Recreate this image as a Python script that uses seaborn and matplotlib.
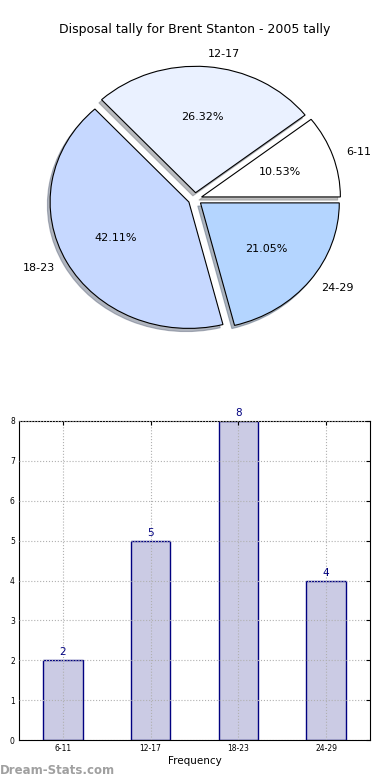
import matplotlib
matplotlib.use("Agg")
import matplotlib.pyplot as plt
import seaborn as sns
import pandas as pd

# data
intervals = ['6-11', '12-17', '18-23', '24-29']
counts = [2, 5, 8, 4]
pie_colors = ['#ffffff', '#eaf1ff', '#c6d8ff', '#b4d5ff']

sns.set_style("white")
plt.rcParams['font.family'] = ['DejaVu Sans']
plt.rcParams['text.color'] = 'black'
plt.rcParams['xtick.color'] = 'black'
plt.rcParams['ytick.color'] = 'black'
plt.rcParams['axes.labelcolor'] = 'black'

fig = plt.figure(figsize=(3.9, 7.8), dpi=100)

# --- pie (old style: not forced round, so it is a bit squashed) ---
pw, ph = 347, 316
cx, cy = 195, 199
ax1 = fig.add_axes([(cx - pw / 2) / 390, 1 - (cy + ph / 2) / 780,
                    pw / 390, ph / 780])
ax1.pie(counts, labels=intervals, colors=pie_colors, explode=[0.05] * 4,
        autopct='%1.2f%%', startangle=0,
        shadow={'ox': -0.014, 'oy': -0.018, 'shade': 0.5},
        wedgeprops=dict(edgecolor='black', linewidth=0.8),
        textprops=dict(fontsize=8, color='black'))
ax1.set_aspect('auto')
ax1.set_xlim(-1.25, 1.25)
ax1.set_ylim(-1.25, 1.25)
fig.text(0.5, 1 - 30 / 780, 'Disposal tally for Brent Stanton - 2005 tally',
         ha='center', va='center', fontsize=9)

# --- bars ---
df = pd.DataFrame({'interval': intervals, 'count': counts})
ax2 = fig.add_axes([19 / 390, 1 - 740 / 780, 351 / 390, 319 / 780])
sns.barplot(data=df, x='interval', y='count', ax=ax2, width=0.45,
            color='#cbcbe4', edgecolor='#000080', linewidth=1, saturation=1)
ax2.bar_label(ax2.containers[0], color='#000080', fontsize=7.5, padding=2)
ax2.set_xlim(-0.5, 3.5)
ax2.set_ylim(0, 8)
ax2.set_axisbelow(False)
ax2.grid(True, linestyle=':', color='#b0b0b0', linewidth=0.8)
ax2.tick_params(direction='in', top=True, right=True, labelsize=5.5,
                length=3, pad=3)
for s in ax2.spines.values():
    s.set_color('black')
    s.set_linewidth(0.8)
ax2.set_xlabel('Frequency', fontsize=7.5, labelpad=2)
ax2.set_ylabel('Stat Intervals', fontsize=7.5)
ax2.yaxis.set_label_coords(-0.045, 0.5)

fig.text(0, 1 - 771 / 780, 'Dream-Stats.com', color='#a0a0a0',
         fontsize=8.5, fontweight='bold', ha='left', va='center')

fig.savefig('out.png', dpi=100)
